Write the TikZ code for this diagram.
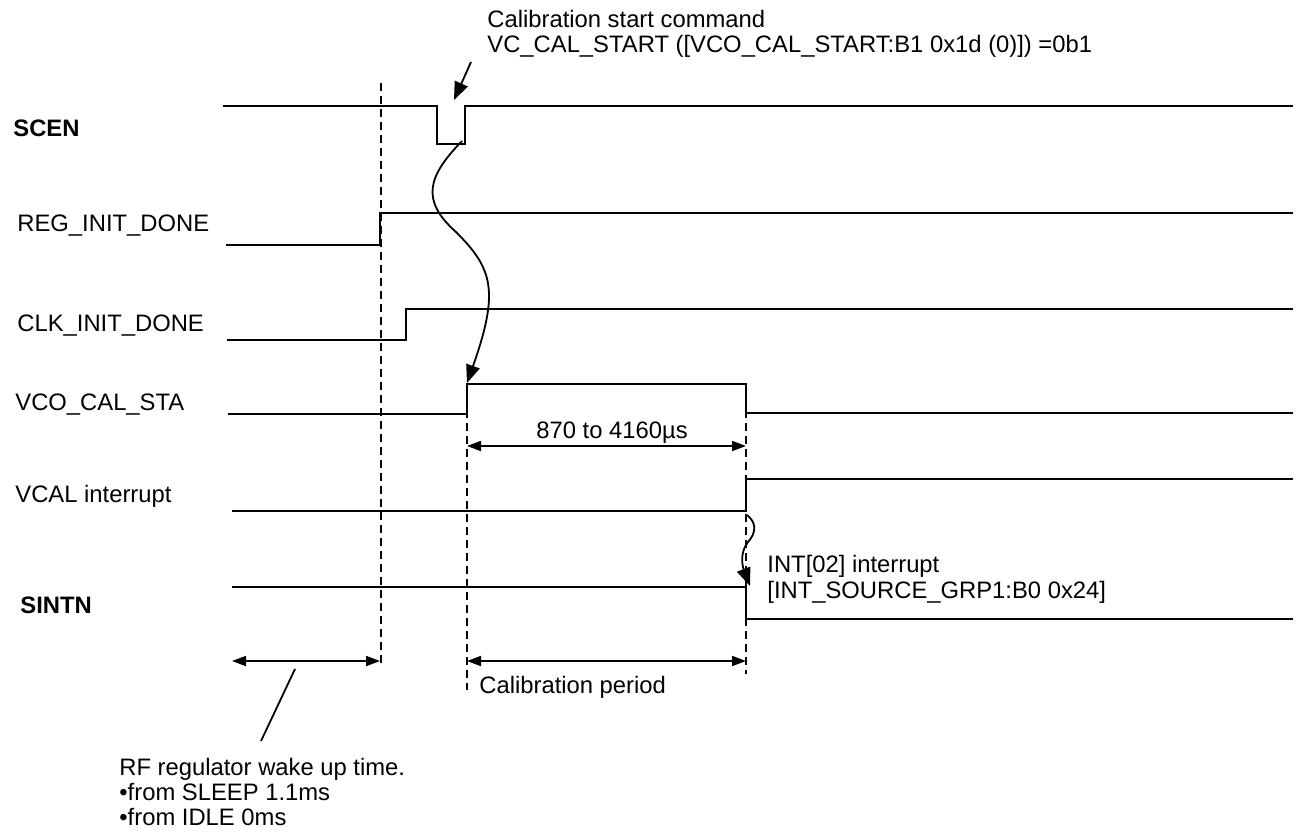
\documentclass[tikz,border=0pt]{standalone}
\usepackage{fontspec}
\setmainfont{Liberation Sans}
\usetikzlibrary{arrows.meta}
\tikzset{
  sig/.style={line width=1pt, line join=miter},
  guide/.style={line width=0.6pt, dash pattern=on 4pt off 2.5pt},
  dimarrow/.style={line width=0.9pt, {Triangle[length=7pt,width=5pt]}-{Triangle[length=7pt,width=5pt]}},
  callout/.style={line width=0.9pt, -{Triangle[length=9pt,width=7pt]}},
  plain/.style={line width=0.9pt},
  lbl/.style={inner sep=0pt, anchor=base west, font=\fontsize{11.9pt}{12.5pt}\selectfont},
  blbl/.style={lbl, font=\fontsize{11.9pt}{12.5pt}\selectfont\bfseries}
}
\begin{document}
\begin{tikzpicture}[x=0.5pt,y=-0.5pt]
\useasboundingbox (0,0) rectangle (1300,836);
% labels
\node[blbl] (lscen) at (13,136) {SCEN};
\node[lbl] (lreg) at (17,231) {REG\_INIT\_DONE};
\node[lbl] (lclk) at (17,331) {CLK\_INIT\_DONE};
\node[lbl] (lvco) at (15,410) {VCO\_CAL\_STA};
\node[lbl] (lvcal) at (15,502) {VCAL interrupt};
\node[blbl] (lsintn) at (20,613) {SINTN};
% top text
\node[lbl] (cmd1) at (487,27) {Calibration start command};
\node[lbl] (cmd2) at (487,52) {VC\_CAL\_START ([VCO\_CAL\_START:B1 0x1d (0)]) =0b1};
% coordinates
\coordinate (gA) at (381,83);
\coordinate (gAb) at (381,666);
\coordinate (gB) at (467,384);
\coordinate (gBb) at (467,690);
\coordinate (gC) at (746,384);
\coordinate (gCb) at (746,674);
% guides
\draw[guide] (gA) -- (gAb);
\draw[guide] (gB) -- (gBb);
\draw[guide] (gC) -- (gCb);
% signals
\draw[sig] (223,106) -- (437,106) -- (437,144) -- (465,144) -- (465,106) -- (1293,106);
\draw[sig] (226,245) -- (380,245) -- (380,213) -- (1293,213);
\draw[sig] (227,340) -- (406,340) -- (406,309) -- (1293,309);
\draw[sig] (228,414) -- (467,414) -- (467,384) -- (746,384) -- (746,413) -- (1293,413);
\draw[sig] (232,511) -- (746,511) -- (746,479) -- (1293,479);
\draw[sig] (232,587) -- (746,587) -- (746,619) -- (1293,619);
% command arrow
\coordinate (ca1) at (471,62);
\coordinate (ca2) at (454,100);
\draw[callout] (ca1) -- (ca2);
% big curved arrow
\coordinate (cs) at (462,141);
\coordinate (cm) at (456,232);
\coordinate (ce) at (467,383);
\draw[callout] (cs) .. controls (428,176) and (420,200) .. (cm) .. controls (492,268) and (500,290) .. (ce);
% small curved arrow
\coordinate (ss) at (747,515);
\coordinate (sm) at (748,542);
\coordinate (se) at (750,586);
\draw[callout] (ss) .. controls (756,522) and (757,532) .. (sm) .. controls (740,552) and (742,565) .. (se);
% dimension 870 to 4160
\draw[dimarrow] (gB |- 0,446) coordinate (d1) -- (gC |- 0,446) coordinate (d2);
\node[lbl] (dimtxt) at (536,438) {870 to 4160µs};
% bottom arrows
\draw[dimarrow] (232,661) coordinate (w1) -- (380,661) coordinate (w2);
\draw[dimarrow] (467,661) coordinate (p1) -- (746,661) coordinate (p2);
\node[lbl] (calper) at (479,693) {Calibration period};
% slash
\coordinate (sl1) at (295,669);
\coordinate (sl2) at (261,741);
\draw[plain] (sl1) -- (sl2);
% INT text
\node[lbl] (int1) at (767,572) {INT[02] interrupt};
\node[lbl] (int2) at (767,598) {[INT\_SOURCE\_GRP1:B0 0x24]};
% bottom text
\node[lbl] (rf1) at (119,775) {RF regulator wake up time.};
\node[lbl] (rf2) at (119,800) {•from SLEEP 1.1ms};
\node[lbl] (rf3) at (119,825) {•from IDLE 0ms};
\end{tikzpicture}
\end{document}
